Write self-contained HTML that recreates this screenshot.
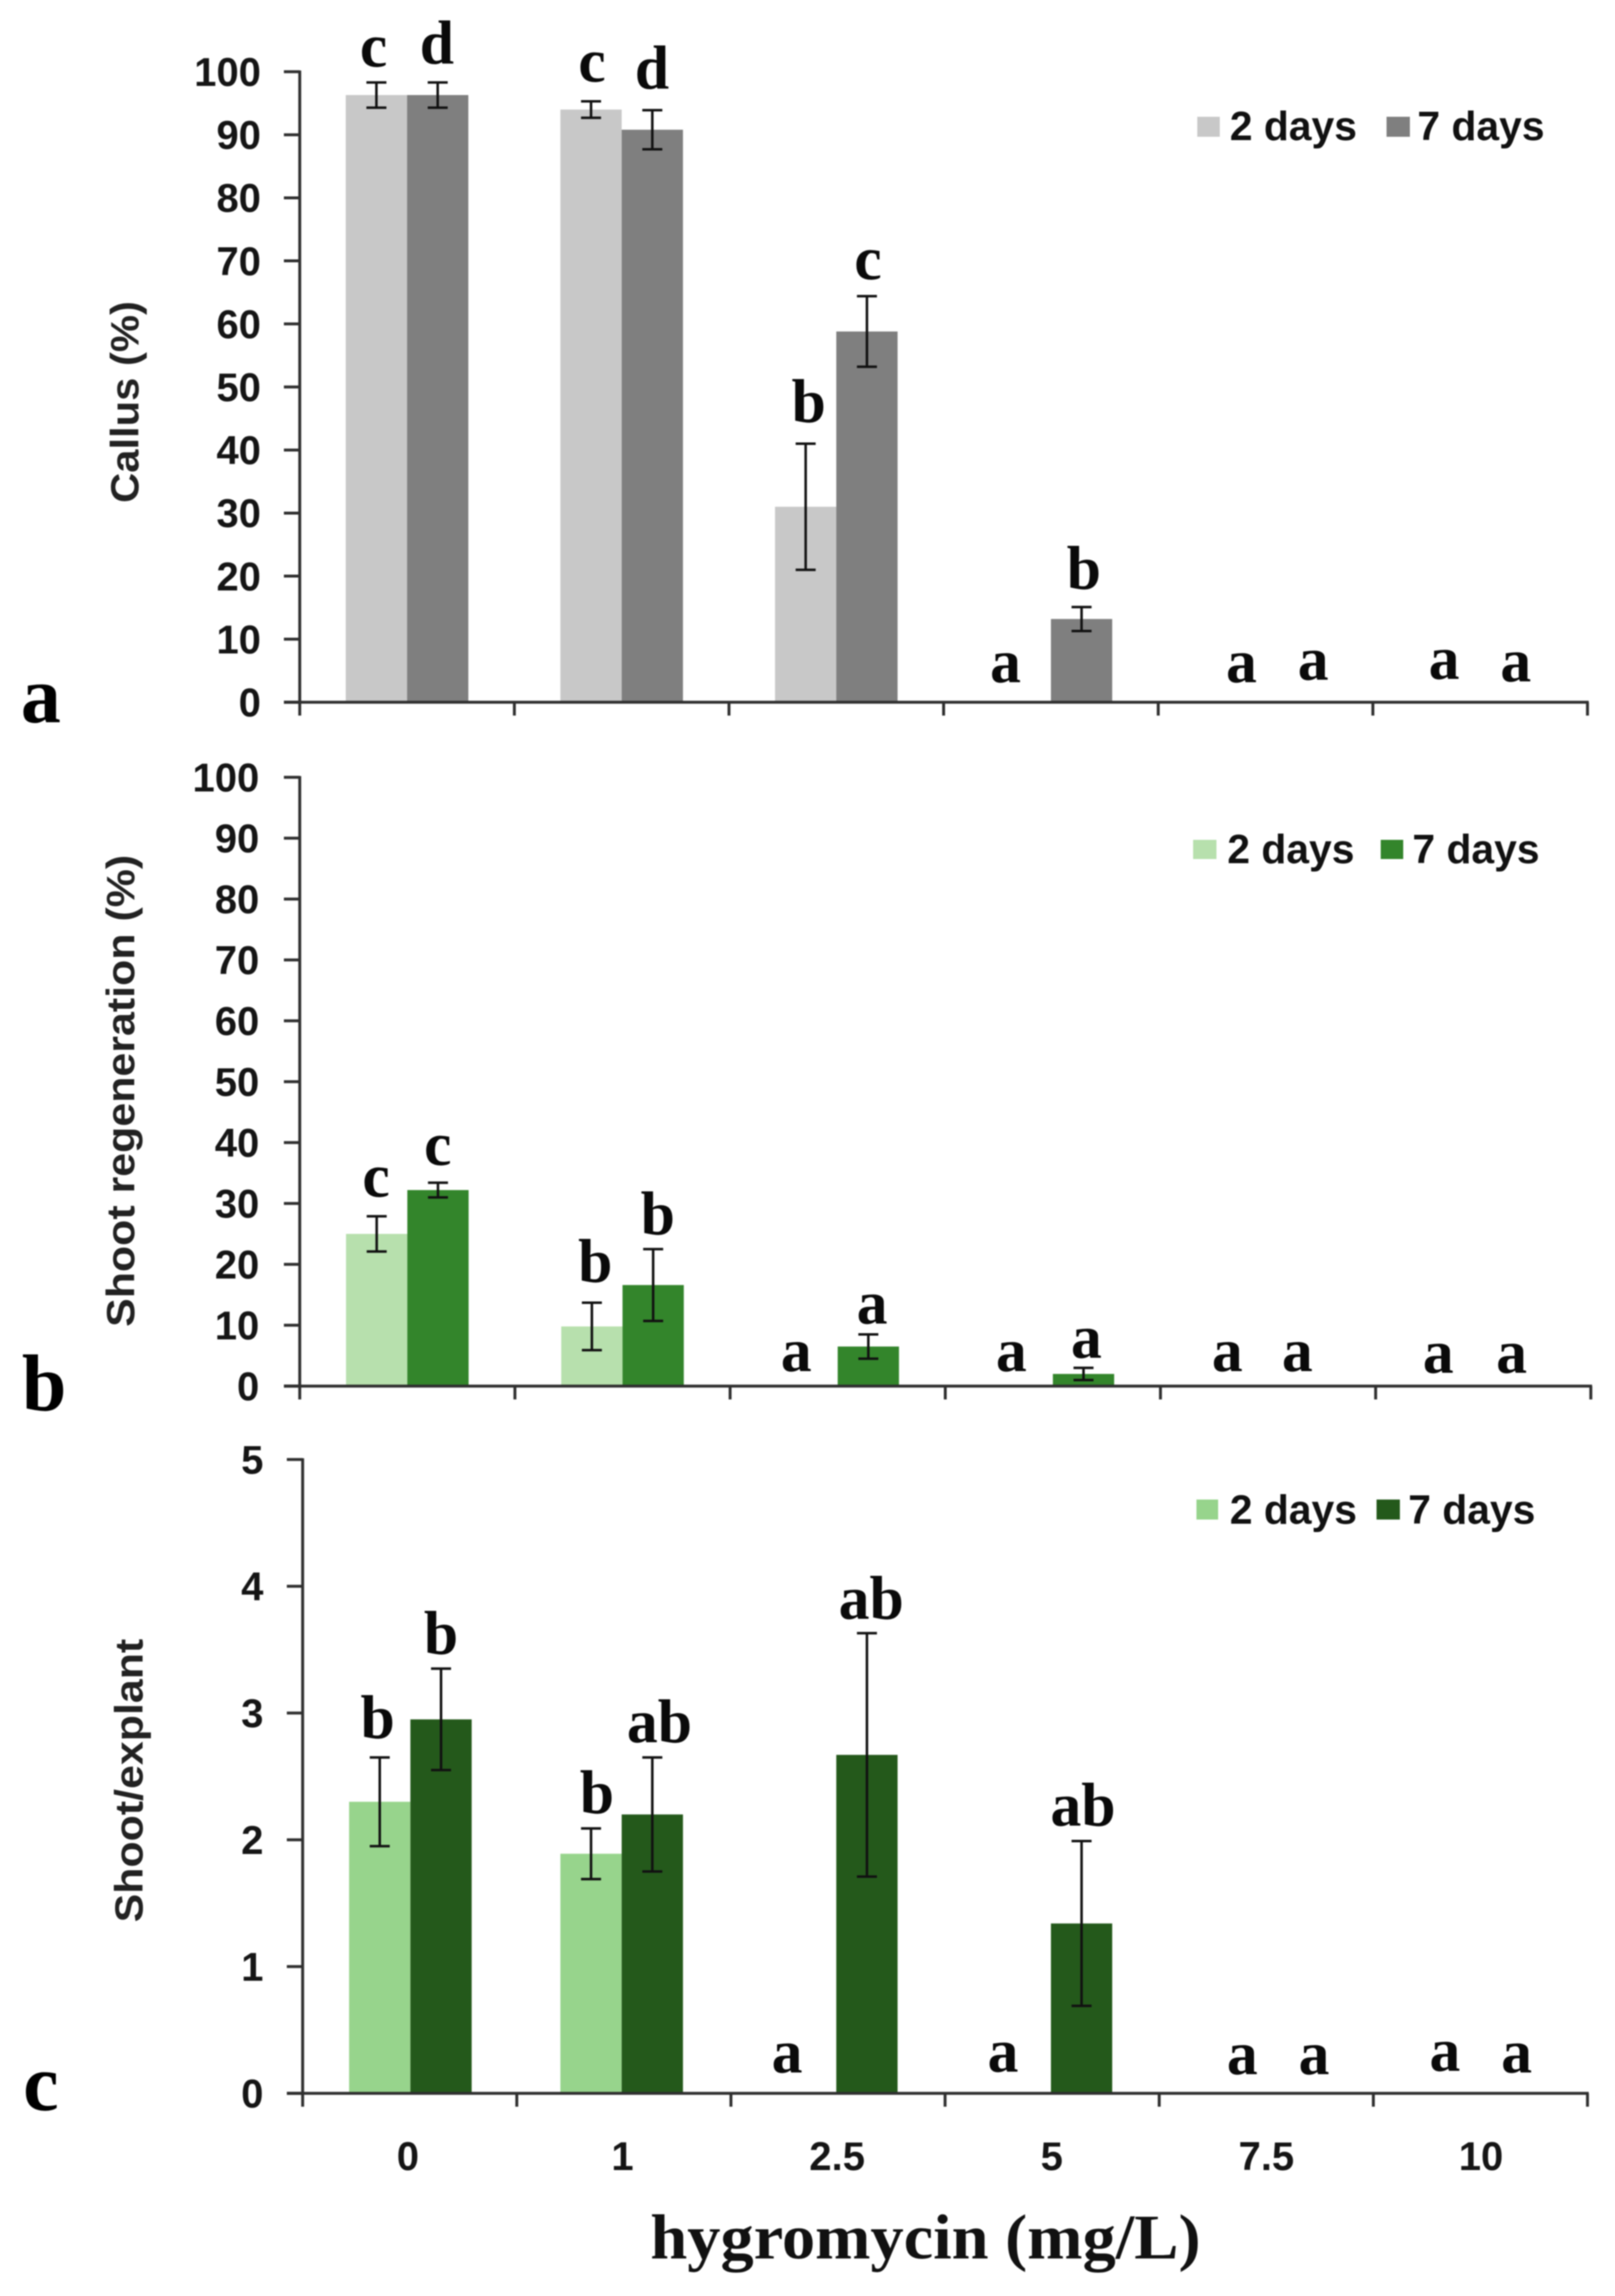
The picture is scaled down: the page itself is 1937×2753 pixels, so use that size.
<!DOCTYPE html>
<html lang="en">
<head>
<meta charset="utf-8">
<title>Hygromycin dose response</title>
<style>
html,body{margin:0;padding:0;background:#fff;}
body{width:1937px;height:2753px;overflow:hidden;}
svg{display:block;filter:blur(0.9px);}
.tick{font:bold 48px "Liberation Sans",Arial,sans-serif;fill:#151515;}
.ytitle{font:bold 47px "Liberation Sans",Arial,sans-serif;fill:#222;}
.legend{font:bold 49px "Liberation Sans",Arial,sans-serif;fill:#111;}
.sig{font:bold 74px "Liberation Serif",serif;fill:#0a0a0a;text-anchor:middle;}
.panel{font:bold 96px "Liberation Serif",serif;fill:#000;text-anchor:middle;}
.xtitle{font:bold 76px "Liberation Serif",serif;fill:#111;}
</style>
</head>
<body>
<svg id="fig" xmlns="http://www.w3.org/2000/svg" width="1937" height="2753" viewBox="0 0 1937 2753">
  <g id="marks"></g>

  <text class="panel" x="49" y="866">a</text>
  <text class="panel" x="53" y="1691">b</text>
  <text class="panel" x="49" y="2530">c</text>

  <text class="ytitle" transform="translate(166,482) rotate(-90)" text-anchor="middle" textLength="242" lengthAdjust="spacingAndGlyphs">Callus (%)</text>
  <text class="ytitle" transform="translate(161,1308) rotate(-90)" text-anchor="middle" textLength="566" lengthAdjust="spacingAndGlyphs">Shoot regeneration (%)</text>
  <text class="ytitle" transform="translate(171,2135) rotate(-90)" text-anchor="middle" textLength="340" lengthAdjust="spacingAndGlyphs">Shoot/explant</text>

  <text class="xtitle" x="780" y="2708" textLength="660" lengthAdjust="spacingAndGlyphs">hygromycin (mg/L)</text>

  <g>
    <rect x="1436" y="140" width="27" height="24" fill="#c8c8c8"/>
    <text class="legend" x="1475" y="168">2 days</text>
    <rect x="1663" y="140" width="28" height="24" fill="#7f7f7f"/>
    <text class="legend" x="1700" y="168">7 days</text>
  </g>
  <g>
    <rect x="1431" y="1007" width="28" height="23" fill="#b7e0ad"/>
    <text class="legend" x="1472" y="1035">2 days</text>
    <rect x="1656" y="1007" width="27" height="23" fill="#33852b"/>
    <text class="legend" x="1694" y="1035">7 days</text>
  </g>
  <g>
    <rect x="1435" y="1798" width="26" height="24" fill="#97d48c"/>
    <text class="legend" x="1475" y="1827">2 days</text>
    <rect x="1651" y="1798" width="28" height="24" fill="#24591b"/>
    <text class="legend" x="1689" y="1827">7 days</text>
  </g>

  <g>
    <text class="sig" x="448" y="80">c</text>
    <text class="sig" x="524" y="76">d</text>
    <text class="sig" x="710" y="98">c</text>
    <text class="sig" x="782" y="106">d</text>
    <text class="sig" x="970" y="506">b</text>
    <text class="sig" x="1041" y="335">c</text>
    <text class="sig" x="1206" y="818">a</text>
    <text class="sig" x="1300" y="706">b</text>
    <text class="sig" x="1489" y="818">a</text>
    <text class="sig" x="1575" y="815">a</text>
    <text class="sig" x="1732" y="814">a</text>
    <text class="sig" x="1818" y="817">a</text>
  </g>
  <g>
    <text class="sig" x="451" y="1435">c</text>
    <text class="sig" x="525" y="1397">c</text>
    <text class="sig" x="714" y="1537">b</text>
    <text class="sig" x="789" y="1480">b</text>
    <text class="sig" x="955" y="1644">a</text>
    <text class="sig" x="1046" y="1587">a</text>
    <text class="sig" x="1213" y="1644">a</text>
    <text class="sig" x="1303" y="1628">a</text>
    <text class="sig" x="1472" y="1644">a</text>
    <text class="sig" x="1556" y="1644">a</text>
    <text class="sig" x="1725" y="1646">a</text>
    <text class="sig" x="1813" y="1646">a</text>
  </g>
  <g>
    <text class="sig" x="453" y="2084">b</text>
    <text class="sig" x="529" y="1983">b</text>
    <text class="sig" x="716" y="2174">b</text>
    <text class="sig" x="791" y="2089">ab</text>
    <text class="sig" x="944" y="2485">a</text>
    <text class="sig" x="1045" y="1941">ab</text>
    <text class="sig" x="1203" y="2484">a</text>
    <text class="sig" x="1299" y="2189">ab</text>
    <text class="sig" x="1490" y="2487">a</text>
    <text class="sig" x="1576" y="2487">a</text>
    <text class="sig" x="1733" y="2483">a</text>
    <text class="sig" x="1819" y="2485">a</text>
  </g>
</svg>
<script>
const categories = ['0', '1', '2.5', '5', '7.5', '10'];

const callusTicks = ['0', '10', '20', '30', '40', '50', '60', '70', '80', '90', '100'];
const callus2Days = [96.3, 94, 31, 0, 0, 0];
const callus2DaysErr = [2, 1.3, 10, 0, 0, 0];
const callus7Days = [96.3, 90.8, 58.8, 13.2, 0, 0];
const callus7DaysErr = [2, 3.1, 5.6, 1.9, 0, 0];

const regenTicks = ['0', '10', '20', '30', '40', '50', '60', '70', '80', '90', '100'];
const regen2Days = [25, 9.8, 0, 0, 0, 0];
const regen2DaysErr = [2.9, 3.9, 0, 0, 0, 0];
const regen7Days = [32.2, 16.6, 6.5, 2, 0, 0];
const regen7DaysErr = [1.2, 5.9, 2, 1, 0, 0];

const explantTicks = ['0', '1', '2', '3', '4', '5'];
const explant2Days = [2.3, 1.89, 0, 0, 0, 0];
const explant2DaysErr = [0.35, 0.2, 0, 0, 0, 0];
const explant7Days = [2.95, 2.2, 2.67, 1.34, 0, 0];
const explant7DaysErr = [0.4, 0.45, 0.96, 0.65, 0, 0];

const NS = 'http://www.w3.org/2000/svg';
const root = document.getElementById('marks');

function make(tag, attrs, parent) {
  const node = document.createElementNS(NS, tag);
  for (const k in attrs) node.setAttribute(k, attrs[k]);
  parent.appendChild(node);
  return node;
}

function drawPanel(cfg) {
  const g = make('g', {}, root);
  
  

  const maxV = Number(cfg.ticks[cfg.ticks.length - 1]);
  const yScale = v => cfg.y0 - (v / maxV) * (cfg.y0 - cfg.yTop);
  const band = (cfg.xEnd - cfg.barOrigin) / categories.length;
  const xCenter = i => cfg.barOrigin + band * (i + 0.5) + (i === 0 ? cfg.firstShift : 0);
  const barW = 73.5;

  const seriesList = [
    { key: '2-days', vals: cfg.a, errs: cfg.aErr, color: cfg.colorA, dir: -1 },
    { key: '7-days', vals: cfg.b, errs: cfg.bErr, color: cfg.colorB, dir: 0 }
  ];

  seriesList.forEach(s => {
    s.vals.forEach((v, i) => {
      if (v <= 0) return;
      const left = xCenter(i) + s.dir * barW;
      const bar = make('rect', { x: left, y: yScale(v), width: barW, height: cfg.y0 - yScale(v), fill: s.color }, g);
      
      
    });
  });

  const axisColor = '#2f2f2f';
  const yAxis = make('line', { x1: cfg.xAxis, x2: cfg.xAxis, y1: cfg.yTop - 1.5, y2: cfg.y0 + 16, stroke: axisColor, 'stroke-width': 3.5 }, g);
  
  
  const xAxis = make('line', { x1: cfg.xAxis - 19, x2: cfg.xEnd + 1.5, y1: cfg.y0, y2: cfg.y0, stroke: axisColor, 'stroke-width': 3.5 }, g);
  
  

  cfg.ticks.forEach(t => {
    const y = yScale(Number(t));
    const mark = make('line', { x1: cfg.xAxis - 19, x2: cfg.xAxis, y1: y, y2: y, stroke: axisColor, 'stroke-width': 3.5 }, g);
    
    
    const label = make('text', { x: cfg.tickRight, y: y + 17, 'text-anchor': 'end', class: 'tick' }, g);
    label.textContent = t;
    
    
  });

  const tickStep = (cfg.xEnd - cfg.xAxis) / categories.length;
  for (let i = 1; i <= categories.length; i++) {
    const x = cfg.xAxis + tickStep * i;
    const mark = make('line', { x1: x, x2: x, y1: cfg.y0, y2: cfg.y0 + 16, stroke: axisColor, 'stroke-width': 3.5 }, g);
    
    
  }

  seriesList.forEach(s => {
    s.vals.forEach((v, i) => {
      const e = s.errs[i];
      if (!e) return;
      const x = xCenter(i) + (s.dir === -1 ? -barW / 2 : barW / 2);
      const hi = yScale(v + e);
      const lo = yScale(v - e);
      const p = make('path', {
        d: 'M' + (x - 12) + ' ' + hi + 'H' + (x + 12) + 'M' + x + ' ' + hi + 'V' + lo + 'M' + (x - 12) + ' ' + lo + 'H' + (x + 12),
        stroke: '#111', 'stroke-width': 3, fill: 'none'
      }, g);
      
      
    });
  });

  if (cfg.showCategories) {
    categories.forEach((c, i) => {
      const label = make('text', { x: cfg.barOrigin + band * (i + 0.5) + 1, y: cfg.y0 + 92, 'text-anchor': 'middle', class: 'tick' }, g);
      label.textContent = c;
      
      
    });
  }
}

drawPanel({ name: 'callus', ticks: callusTicks, a: callus2Days, aErr: callus2DaysErr, b: callus7Days, bErr: callus7DaysErr,
  colorA: '#c8c8c8', colorB: '#7f7f7f', y0: 842, yTop: 86, xAxis: 359.5, barOrigin: 359.5, xEnd: 1904, firstShift: 0, tickRight: 313, showCategories: false });
drawPanel({ name: 'shoot-regeneration', ticks: regenTicks, a: regen2Days, aErr: regen2DaysErr, b: regen7Days, bErr: regen7DaysErr,
  colorA: '#b7e0ad', colorB: '#33852b', y0: 1662, yTop: 932, xAxis: 359.5, barOrigin: 359.5, xEnd: 1908, firstShift: 0, tickRight: 311, showCategories: false });
drawPanel({ name: 'shoot-explant', ticks: explantTicks, a: explant2Days, aErr: explant2DaysErr, b: explant7Days, bErr: explant7DaysErr,
  colorA: '#97d48c', colorB: '#24591b', y0: 2510, yTop: 1750, xAxis: 363, barOrigin: 359.5, xEnd: 1904, firstShift: 4, tickRight: 316, showCategories: true });
</script>
</body>
</html>
